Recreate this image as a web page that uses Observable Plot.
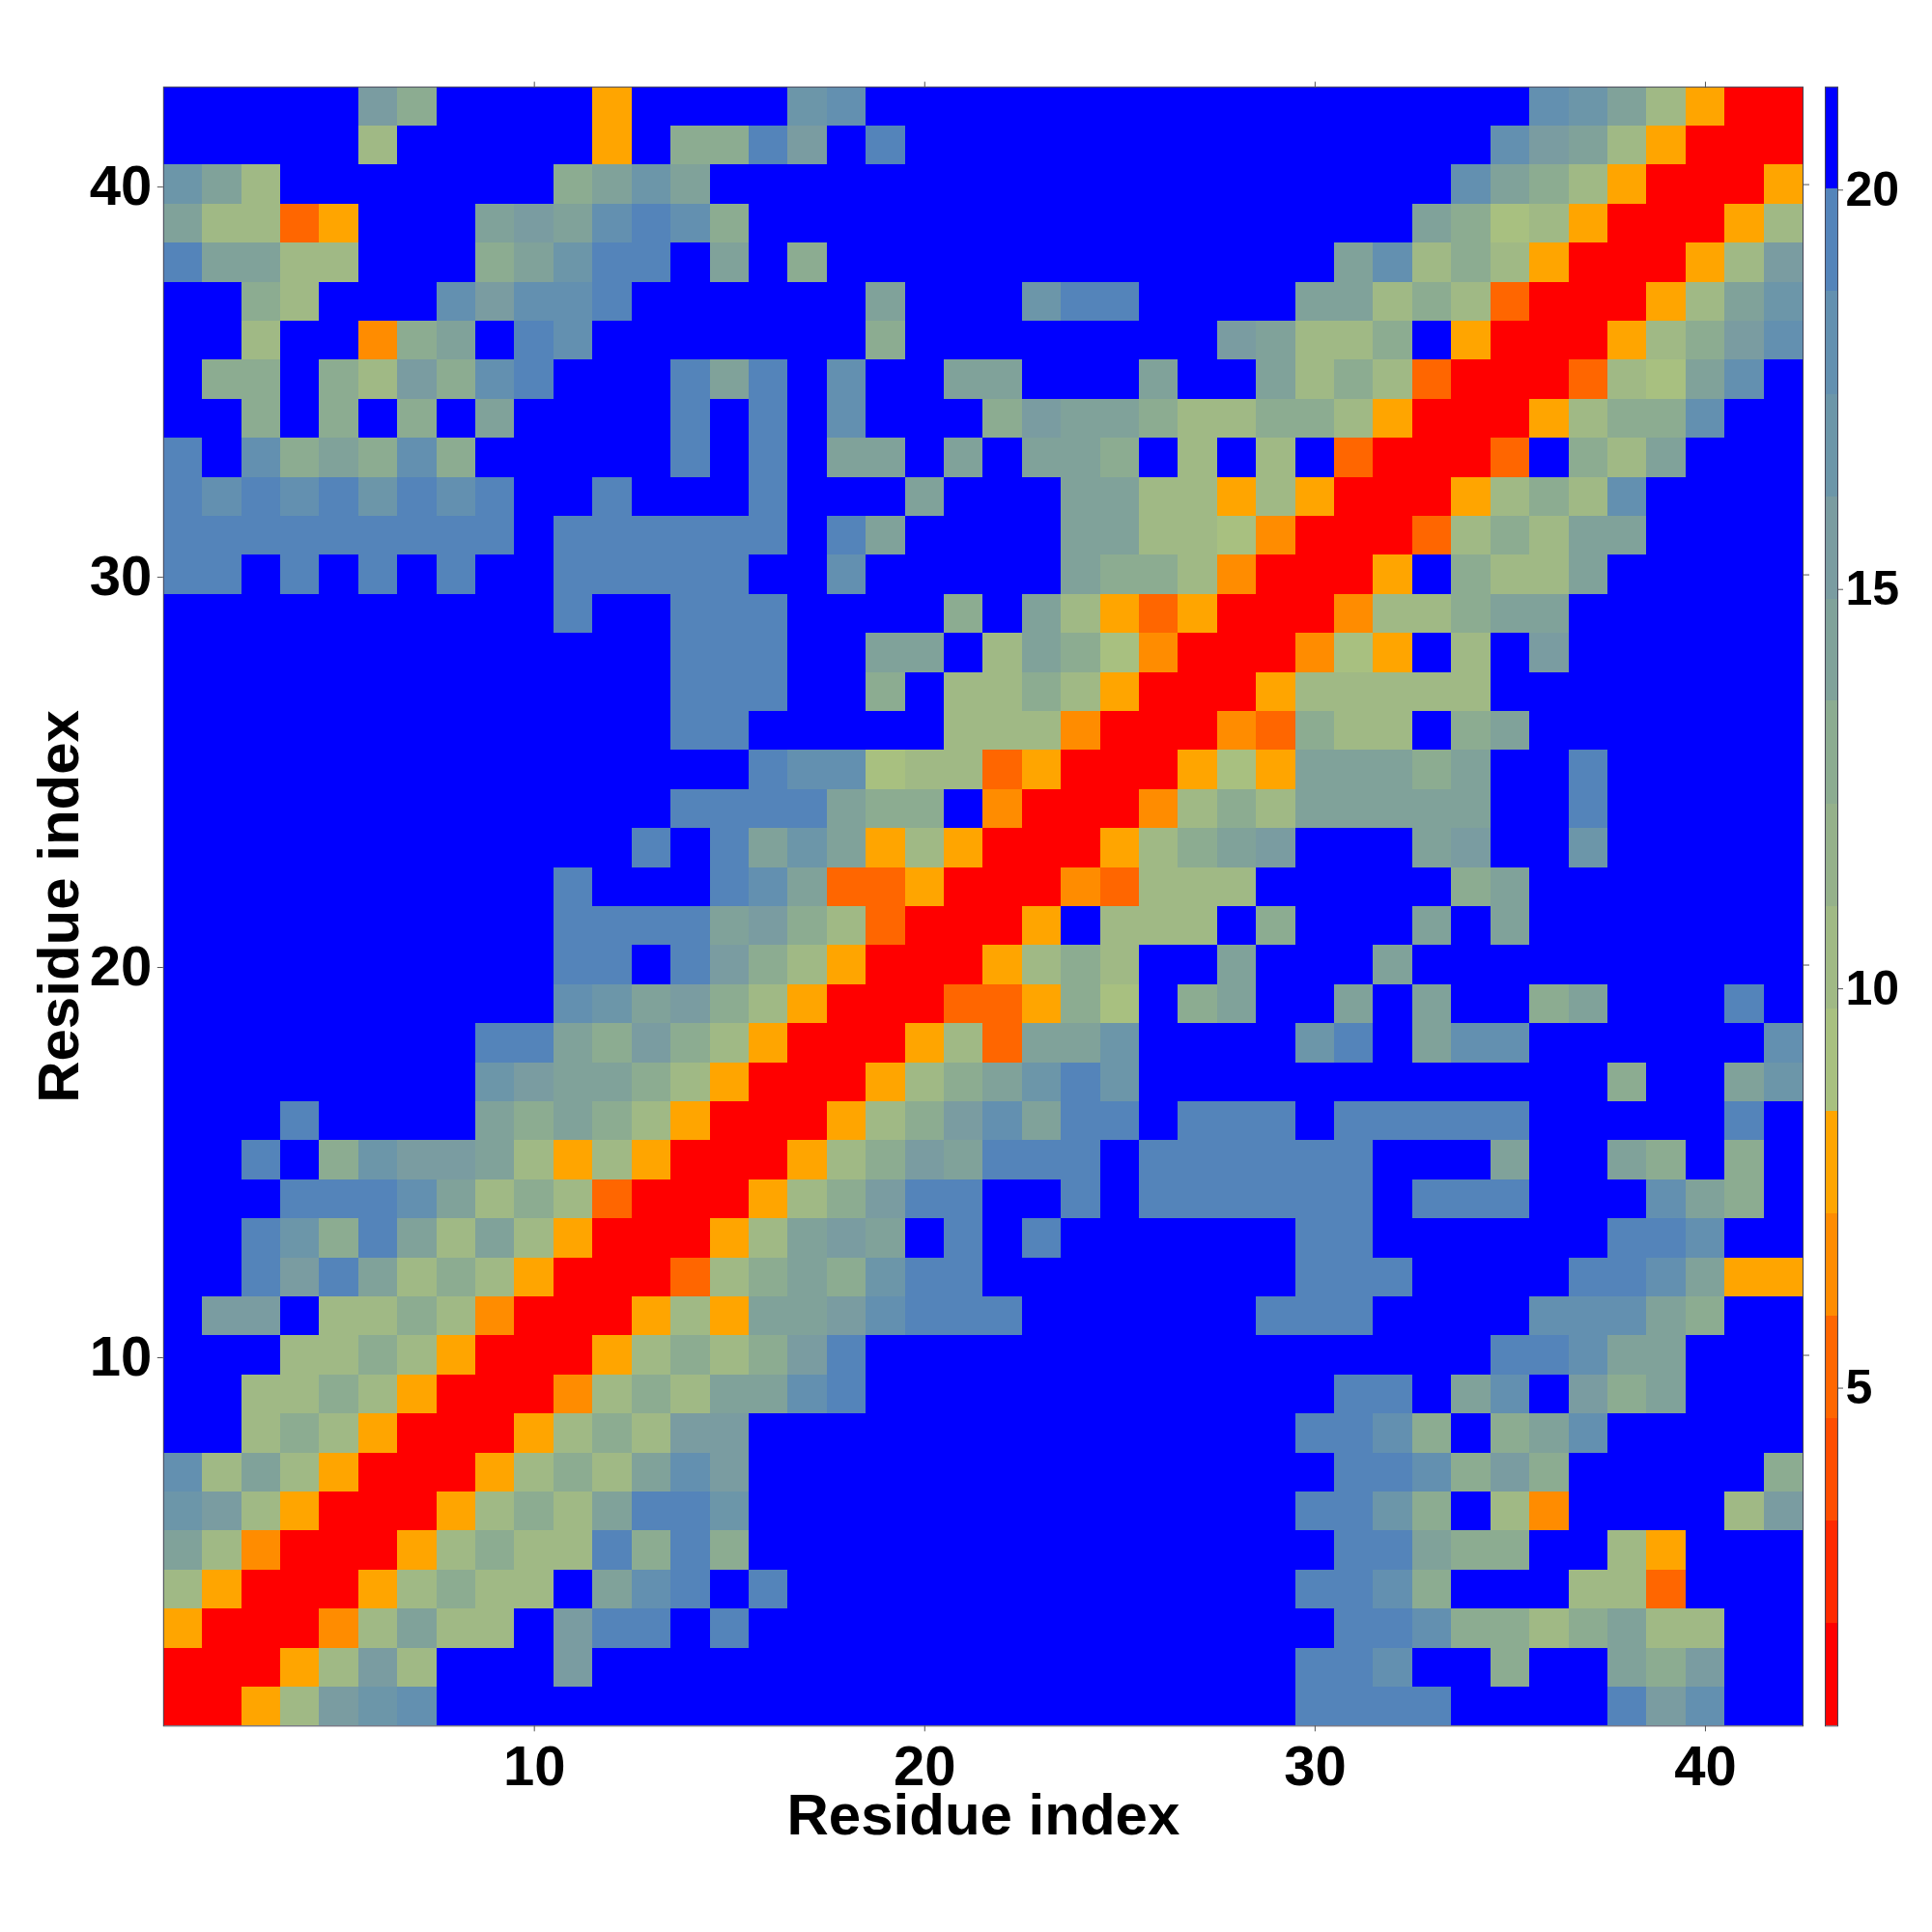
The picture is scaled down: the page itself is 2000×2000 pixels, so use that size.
<!DOCTYPE html>
<html>
<head>
<meta charset="utf-8">
<script src="https://cdn.jsdelivr.net/npm/d3@7"></script>
<script src="https://cdn.jsdelivr.net/npm/@observablehq/plot@0.6"></script>
<style>
html,body{margin:0;padding:0;background:#fff}
#wrap{display:flex;width:2000px;height:2000px}
#wrap svg{flex:none;overflow:visible;background:none}
</style>
</head>
<body>
<div id="wrap"></div>
<script>
// Distance class of each cell. First row is residue 42, first column residue 1.
const rows = [
"fffff a 8 ffff 5 ffff b c fffff fffff fffff ff c b 9 7 5 00",
"fffff 7 fffff 5 f 88 d a f d fffff fffff fffff c a 9 7 5 000",
"b 9 7 fffff ff 8 9 b 9 fffff fffff fffff ffff c 9 8 7 5 000 5",
"9 7 7 3 5 fff 9 a 9 c d c 8 fffff fffff fffff ff 9 8 6 7 5 000 5 7",
"d 9 9 7 7 fff 8 9 b d d f 9 f 8 fffff fffff fff 9 c 7 8 7 5 000 5 7 a",
"ff 8 7 fff c a c c d ffffff 9 fff b d d ffff 9 9 7 8 7 3 000 5 7 9 b",
"ff 7 ff 4 8 9 f d c fffffff 8 fffff fff a 9 7 7 8 f 5 000 5 7 8 a c",
"f 8 8 f 8 7 a 8 c d fff d 9 d f c ff 9 9 fff 9 ff 9 7 8 7 3 000 3 7 6 9 c f",
"ff 8 f 8 f 8 f 9 ffff d f d f c fff 8 a 9 9 8 7 7 8 8 7 5 000 5 7 8 8 c ff",
"d f c 8 9 8 c 8 fffff d f d f 9 9 f 9 f 9 9 8 f 7 f 7 f 3 000 3 f 8 7 9 fff",
"d c d c d b d c d ff d fff d fff 9 fff 9 9 7 7 5 7 5 000 5 7 8 7 c ffff",
"ddddddddd f dddddd f d 9 ffff 9 9 7 7 6 4 000 3 7 8 7 9 9 ffff",
"d d f d f d f d ff ddddd ff c fffff 9 8 8 7 4 000 5 f 8 7 7 9 fffff",
"fffff fffff d ff ddd ffff 8 f 9 7 5 3 5 000 4 7 7 8 9 9 ffffff",
"fffff fffff fff ddd ff 9 9 f 7 9 8 6 4 000 4 6 5 f 7 f a ffffff",
"fffff fffff fff ddd ff 8 f 7 7 8 7 5 000 5 77777 fffff fff",
"fffff fffff fff dd fffff 777 4 000 4 3 8 7 7 f 8 9 fffffff",
"fffff fffff fffff d c c 6 7 7 3 5 000 5 6 5 9 9 9 8 9 ff d fffff",
"fffff fffff fff dddd 9 8 8 f 4 000 4 7 8 7 99999 ff d fffff",
"fffff fffff ff d f d 9 b 9 5 7 5 000 5 7 8 9 a fff 9 a ff b fffff",
"fffff fffff d fff d c 9 3 3 5 000 4 3 777 fffff 8 9 fffffff",
"fffff fffff dddd 9 a 8 7 3 000 5 f 7 7 7 f 8 fff 9 f 9 fffffff",
"fffff fffff d d f d a 8 7 5 000 5 7 8 7 ff 9 fff 9 fffff fffff",
"fffff fffff c b 9 a 8 7 5 000 3 3 5 8 6 f 8 9 ff 9 f 9 ff 8 9 fff d f",
"fffff fff dd 9 8 a 8 7 5 000 5 7 3 9 9 b ffff b d f 9 c c ffffff c",
"fffff fff b a 9 9 8 7 5 000 5 7 8 9 b d b fffff fffff ff 8 ff 9 b",
"fff d ffff 9 8 9 8 7 5 000 5 7 8 a c 9 d d f ddd f ddddd fffff d f",
"ff d f 8 b a a 9 7 5 7 5 000 5 7 8 a 9 ddd f dddddd fff 9 ff 9 8 f 8 f",
"fff ddd c 9 7 8 7 3 000 5 7 8 a dd ff d f dddddd f ddd fff c 9 8 f",
"ff d b 8 d 9 7 9 7 5 000 5 7 9 a 9 f d f d ffffff dd ffffff d d c ff",
"ff d a d 9 7 8 7 5 000 3 7 8 9 8 b dd ffffffff ddd ffff d d c 9 5 5",
"f a a f 7 7 8 7 4 000 5 7 5 9 9 a c ddd ffffff ddd ffff c c c 9 8 ff",
"fff 7 7 8 7 5 000 5 7 8 7 8 a d fffff fffff fffff f d d c 9 9 fff",
"ff 7 7 8 7 5 000 4 7 8 7 9 9 c d fffff fffff ff d d f 9 c f a 8 9 fff",
"ff 7 8 7 5 000 5 7 8 7 a a fffff fffff ffff d d c 8 f 8 9 c fffff",
"c 7 9 7 5 000 5 7 8 7 9 c a fffff fffff fffff d d c 8 a 8 fffff 8",
"b a 7 5 000 5 7 8 7 9 d d b fffff fffff ffff d d b 8 f 7 4 ffff 7 a",
"9 7 4 000 5 7 8 7 7 d 8 d 8 fffff fffff fffff d d 9 8 8 ff 7 5 fff",
"7 5 000 5 7 8 7 7 f 9 c d f d fffff fffff fff d d c 8 fff 7 7 3 fff",
"5 000 4 7 9 7 7 f a d d f d fffff fffff fffff d d c 8 8 7 8 9 7 7 ff",
"000 5 7 a 7 fff a fffff fffff fffff fff d d c ff 8 ff 9 8 a ff",
"00 5 7 a b c fffff fffff fffff fffff ff dddd ffff d a c ff"
];
// Representative distance of each class.
const classValue = {"0":1.38,"3":5.23,"4":6.51,"5":7.79,"6":9.08,"7":10.36,"8":12.92,"9":14.21,"a":15.49,"b":16.77,"c":18.06,"d":19.34,"f":20.62};
// Colour bar: sixteen bands.
const bandEdges = [0.74,2.02,3.31,4.59,5.87,7.15,8.44,9.72,11.0,12.28,13.57,14.85,16.13,17.41,18.7,19.98,21.26];
const bandColors = ["#ff0000","#ff2a00","#ff4d00","#ff6600","#ff8c00","#ffa500","#a8c080","#a0b985","#95b18b","#8cac91","#80a29a","#7a9ca1","#6c96a9","#6390b0","#5484ba","#0000ff"];
const axisTicks = [10,20,30,40];
const barTicks = [5,10,15,20];
const axisLabel = "Residue index";
const FONT = "'Liberation Sans', Arial, sans-serif";

const cells = [];
rows.forEach((row, r) => {
  const codes = row.replace(/\s/g, "");
  if (codes.length !== 42) console.warn("row", r, codes.length);
  [...codes].forEach((c, i) => {
    cells.push({res1: i + 1, res2: 42 - r, v: classValue[c]});
  });
});
const bands = bandColors.map((_, i) => ({lo: bandEdges[i], hi: bandEdges[i + 1], v: (bandEdges[i] + bandEdges[i + 1]) / 2}));
const colorScale = {type: "threshold", domain: bandEdges.slice(1, -1), range: bandColors};
const tickColor = "#555";

const main = Plot.plot({
  width: 1880, height: 2000,
  marginLeft: 168.8, marginRight: 14, marginTop: 89.6, marginBottom: 213.7,
  x: {domain: [0.5, 42.5]},
  y: {domain: [0.5, 42.5]},
  color: colorScale,
  style: {background: "none", overflow: "visible"},
  marks: [
    Plot.rect(cells, {
      x1: d => d.res1 - 0.5, x2: d => d.res1 + 0.5,
      y1: d => d.res2 - 0.5, y2: d => d.res2 + 0.5,
      fill: "v", shapeRendering: "crispEdges"
    }),
    Plot.frame({stroke: "#445", strokeWidth: 1}),
    Plot.axisX({anchor: "bottom", ticks: axisTicks, tickSize: 6, tickPadding: 14, label: null, stroke: tickColor,
      fontSize: 58, fontWeight: "bold", fontFamily: FONT, fill: "#000", tickFormat: d => d}),
    Plot.axisX({anchor: "top", ticks: axisTicks, tickSize: 6, label: null, stroke: tickColor, tickFormat: () => ""}),
    Plot.axisY({anchor: "left", ticks: axisTicks, tickSize: 6, tickPadding: 6, label: null, stroke: tickColor,
      fontSize: 58, fontWeight: "bold", fontFamily: FONT, fill: "#000", tickFormat: d => d, dy: 2.5}),
    Plot.axisY({anchor: "right", ticks: axisTicks, tickSize: 6, label: null, stroke: tickColor, tickFormat: () => ""}),
    Plot.text([axisLabel], {frameAnchor: "bottom", dy: 112, text: d => d, fontSize: 60, fontWeight: "bold", fontFamily: FONT, fill: "#000", lineAnchor: "bottom"}),
    Plot.text([axisLabel], {frameAnchor: "left", dx: -108, text: d => d, rotate: -90, fontSize: 60, fontWeight: "bold", fontFamily: FONT, fill: "#000", textAnchor: "middle"})
  ]
});

const bar = Plot.plot({
  width: 120, height: 2000,
  marginLeft: 9, marginRight: 98, marginTop: 89.6, marginBottom: 213.7,
  x: {domain: [0, 1], axis: null},
  y: {domain: [bandEdges[0], bandEdges[bandEdges.length - 1]]},
  color: colorScale,
  style: {background: "none", overflow: "visible"},
  marks: [
    Plot.rect(bands, {x1: () => 0, x2: () => 1, y1: "lo", y2: "hi", fill: "v", shapeRendering: "crispEdges"}),
    Plot.frame({stroke: "#445", strokeWidth: 1}),
    Plot.axisY({anchor: "right", ticks: barTicks, tickSize: 5, tickPadding: 3, label: null, stroke: tickColor,
      fontSize: 50, fontWeight: "bold", fontFamily: FONT, fill: "#000", tickFormat: d => d, dy: 2.5})
  ]
});

document.getElementById("wrap").append(main, bar);
</script>
</body>
</html>
